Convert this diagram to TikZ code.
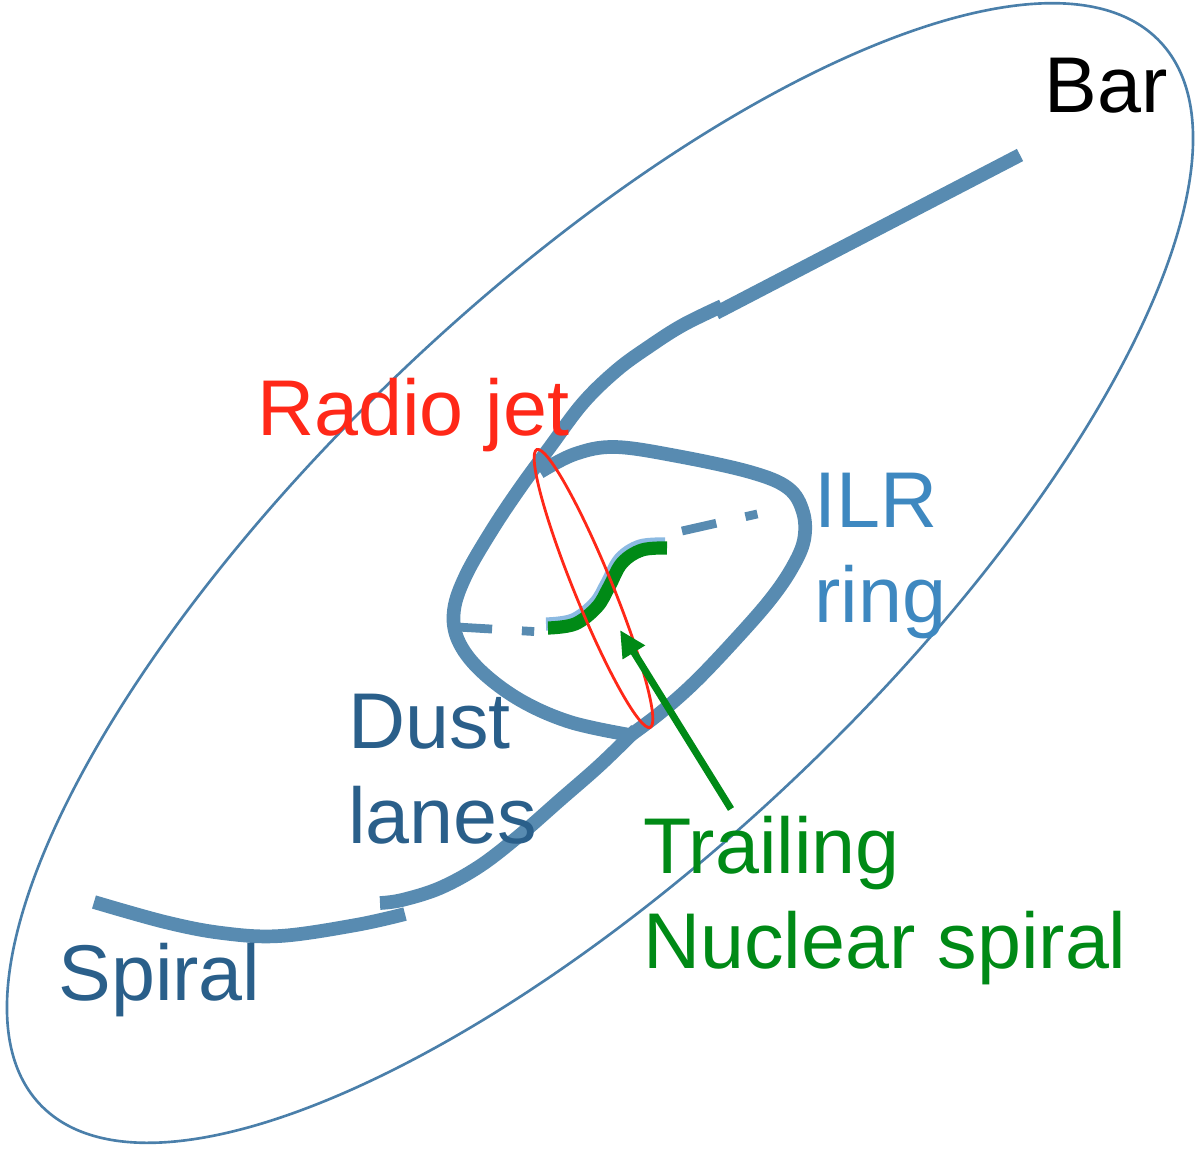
\documentclass[tikz,border=0pt]{standalone}
\usepackage{fontspec}
\setmainfont{Liberation Sans}
\usetikzlibrary{arrows.meta}
\definecolor{lanecol}{RGB}{88,139,177}
\definecolor{rimcol}{RGB}{74,127,170}
\definecolor{darkcol}{RGB}{42,95,138}
\definecolor{ilrcol}{RGB}{62,136,192}
\definecolor{jetcol}{RGB}{255,40,24}
\definecolor{spircol}{RGB}{0,138,22}
\definecolor{halocol}{RGB}{140,186,226}
\begin{document}
\begin{tikzpicture}[x=0.02cm, y=-0.02cm,
  lane/.style={draw=lanecol, line width=7.8pt},
  dashline/.style={draw=lanecol, line width=5pt, dash pattern=on 20pt off 17pt on 7pt off 17pt},
  lbl/.style={anchor=base west, inner sep=0pt, align=left, font=\fontsize{45}{54}\selectfont}]
\useasboundingbox (0,0) rectangle (1200,1150);
\draw[rimcol, line width=1.5pt, rotate around={43.5:(600,573)}] (600,573) ellipse [x radius=772, y radius=283];
\draw[lane] (1020,155) -- (716,313);
\draw[lane] plot[smooth, tension=0.6] coordinates {(722,306) (683,325) (650,346) (617,370) (583,403) (550,447) (520,488) (492,530) (466,575) (454,610) (458,640) (480,670) (520,700) (570,722) (630,735)};
\draw[lane] plot[smooth, tension=0.6] coordinates {(540,472) (575,454) (615,447) (677,456) (750,472) (788,488) (803,512) (804,540) (792,568) (770,600) (735,640) (695,682) (660,713) (628,737)};
\draw[lane] plot[smooth, tension=0.6] coordinates {(636,730) (600,765) (560,800) (520,835) (480,866) (440,888) (402,900) (380,903)};
\draw[lane] plot[smooth, tension=0.6] coordinates {(405,914) (356,925) (280,936) (222,933) (165,922) (94,902)};
\draw[dashline] (457,627) -- (542,632);
\draw[dashline] (682,531) -- (766,512);
\draw[halocol, line width=7.5pt, shift={(-2,-4)}] plot[smooth, tension=0.6] coordinates {(548,628) (575,624) (597,607) (609,587) (622,563) (642,550) (667,548)};
\draw[spircol, line width=7.5pt] plot[smooth, tension=0.6] coordinates {(548,628) (575,624) (597,607) (609,587) (622,563) (642,550) (667,548)};
\draw[jetcol, line width=1.6pt, rotate around={-67.8:(593.5,588.5)}] (593.5,588.5) ellipse [x radius=150, y radius=19];
\node[lbl, text=black] (bar) at (1044,112) {Bar};
\node[lbl, text=jetcol] (jet) at (257,435) {Radio jet};
\node[lbl, text=ilrcol] (ilr) at (814,622) {ILR\\ring};
\node[lbl, text=darkcol] (dust) at (348,843) {Dust\\lanes};
\node[lbl, text=darkcol] (spiral) at (58,1000) {Spiral};
\node[lbl, text=spircol] (trail) at (643,968) {Trailing\\Nuclear spiral};
\coordinate (tail) at (731,809);
\coordinate (tip) at (620,630);
\draw[spircol, line width=4pt, -{Triangle[length=15pt, width=14pt]}] (tail) -- (tip);
\end{tikzpicture}
\end{document}
